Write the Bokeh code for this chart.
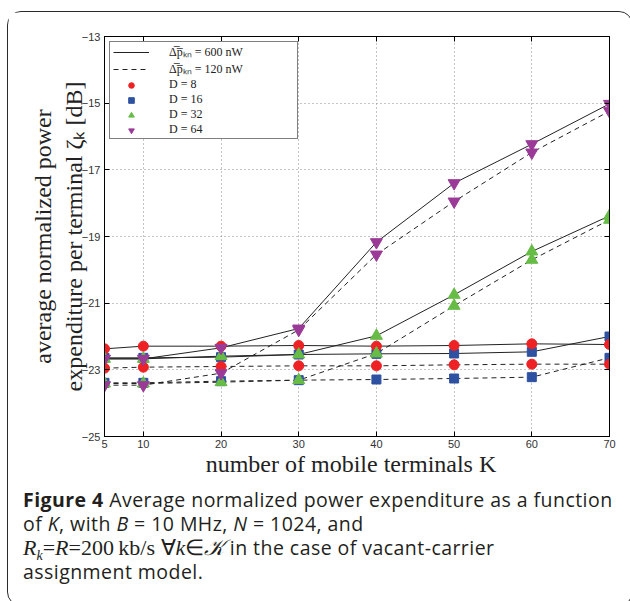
from bokeh.plotting import figure
from bokeh.models import (Range1d, LinearAxis, FixedTicker, Legend, LegendItem, Div,
                          CustomLabelingPolicy)
from bokeh.layouts import column
from bokeh.embed import file_html
from bokeh.resources import INLINE

# ---------------- data ----------------
K = [5, 10, 20, 30, 40, 50, 60, 70]
x_ticks = [5, 10, 20, 30, 40, 50, 60, 70]
y_ticks = [-25, -23, -21, -19, -17, -15, -13]

# D = 8
d8_600 = [-22.37, -22.29, -22.29, -22.27, -22.29, -22.27, -22.22, -22.24]
d8_120 = [-22.95, -22.92, -22.90, -22.88, -22.88, -22.85, -22.83, -22.83]
# D = 16
d16_600 = [-22.64, -22.64, -22.62, -22.54, -22.52, -22.51, -22.46, -22.00]
d16_120 = [-23.39, -23.39, -23.34, -23.31, -23.29, -23.26, -23.22, -22.64]
# D = 32
d32_600 = [-22.67, -22.67, -22.59, -22.54, -21.98, -20.75, -19.45, -18.38]
d32_120 = [-23.41, -23.41, -23.37, -23.31, -22.51, -21.08, -19.70, -18.50]
# D = 64
d64_600 = [-22.67, -22.67, -22.34, -21.76, -19.17, -17.40, -16.23, -15.02]
d64_120 = [-23.46, -23.46, -23.10, -21.80, -19.54, -17.95, -16.48, -15.24]

labels_D = ["D = 8", "D = 16", "D = 32", "D = 64"]
label_600 = "Δ\u0305p\u0305ₖₙ = 600 nW"
label_120 = "Δ\u0305p\u0305ₖₙ = 120 nW"
y_title = "average normalized power\nexpenditure per terminal ζₖ [dB]"
x_title = "number of mobile terminals   K"

# ---------------- styles ----------------
RED, BLUE, GREEN, PURPLE = "#ee2224", "#2e51a2", "#67bc46", "#9b3a97"
LINE_COL = "#222222"
W, H = 614, 470

p = figure(width=W, height=H, x_range=Range1d(5, 70), y_range=Range1d(-25, -13),
           output_backend="svg", toolbar_location=None,
           min_border_left=96, min_border_right=13, min_border_top=24, min_border_bottom=46,
           background_fill_color="white", border_fill_color="white",
           outline_line_color="black", outline_line_width=1)

bottom_axis = p.below[0]
left_axis = p.left[0]

hide_all = CustomLabelingPolicy(code="""
const n = indices.size;
for (let i = 0; i < n; i++) {
  if (typeof indices.unset === 'function') { indices.unset(i); }
  else if (typeof indices.set === 'function') { indices.set(i, false); }
}
return indices;
""")

def style_axis(ax, show_labels=True):
    ax.major_tick_in = 5
    ax.major_tick_out = 0
    ax.minor_tick_line_color = None
    ax.axis_line_color = "black"
    ax.major_tick_line_color = "black"
    ax.major_label_text_font = "Liberation Sans"
    ax.major_label_text_font_size = "11px" if show_labels else "1px"
    ax.major_label_text_color = "#333333"
    ax.major_label_standoff = 4 if show_labels else 0
    if not show_labels:
        ax.major_label_policy = hide_all

bottom_axis.ticker = FixedTicker(ticks=x_ticks)
left_axis.ticker = FixedTicker(ticks=y_ticks)
left_axis.major_label_overrides = {t: ("\u2212" + str(abs(t))) for t in y_ticks}
style_axis(bottom_axis)
style_axis(left_axis)
bottom_axis.major_label_standoff = 3

# axis titles
left_axis.axis_label = y_title
left_axis.axis_label_text_font = "Liberation Serif"
left_axis.axis_label_text_font_style = "normal"
left_axis.axis_label_text_font_size = "24px"
left_axis.axis_label_text_color = "#222222"
left_axis.axis_label_standoff = -8
bottom_axis.axis_label = x_title
bottom_axis.axis_label_text_font = "Liberation Serif"
bottom_axis.axis_label_text_font_style = "normal"
bottom_axis.axis_label_text_font_size = "24px"
bottom_axis.axis_label_text_color = "#222222"
bottom_axis.axis_label_standoff = 0

top = LinearAxis(ticker=FixedTicker(ticks=x_ticks))
style_axis(top, False)
p.add_layout(top, "above")
right = LinearAxis(ticker=FixedTicker(ticks=y_ticks))
style_axis(right, False)
p.add_layout(right, "right")

for g in (p.xgrid, p.ygrid):
    g.grid_line_color = "#8a8a8a"
    g.grid_line_dash = "1 3"
    g.grid_line_width = 1

# ---------------- lines ----------------
series = [(d16_600, d16_120), (d8_600, d8_120), (d32_600, d32_120), (d64_600, d64_120)]
for s600, s120 in series:
    p.line(K, s600, line_color=LINE_COL, line_width=1)
    p.line(K, s120, line_color=LINE_COL, line_width=1, line_dash="5 4")

# ---------------- markers ----------------
r16 = p.scatter(K + K, d16_600 + d16_120, marker="square", size=9, fill_color=BLUE, line_color=BLUE)
r8 = p.scatter(K + K, d8_600 + d8_120, marker="circle", size=10, fill_color=RED, line_color=RED)
r32 = p.scatter(K + K, d32_600 + d32_120, marker="triangle", size=12, fill_color=GREEN, line_color=GREEN)
r64 = p.scatter(K + K, d64_600 + d64_120, marker="inverted_triangle", size=12, fill_color=PURPLE, line_color=PURPLE)

nan = float("nan")
leg_solid = p.line([nan, nan], [nan, nan], line_color=LINE_COL, line_width=1)
leg_dash = p.line([nan, nan], [nan, nan], line_color=LINE_COL, line_width=1, line_dash="5 4")

legend = Legend(items=[
    LegendItem(label=label_600, renderers=[leg_solid]),
    LegendItem(label=label_120, renderers=[leg_dash]),
    LegendItem(label=labels_D[0], renderers=[r8]),
    LegendItem(label=labels_D[1], renderers=[r16]),
    LegendItem(label=labels_D[2], renderers=[r32]),
    LegendItem(label=labels_D[3], renderers=[r64]),
], location="top_left")
legend.margin = 5
legend.padding = {"left": 3, "right": 3, "top": 1, "bottom": 1}
legend.spacing = 0
legend.label_height = 14
legend.glyph_height = 14
legend.glyph_width = 36
legend.label_standoff = 20
legend.label_width = 125
legend.label_text_font = "Liberation Serif"
legend.label_text_font_size = "12px"
legend.label_text_color = "#222222"
legend.border_line_color = "black"
legend.border_line_width = 1
legend.background_fill_color = "white"
legend.background_fill_alpha = 1
p.add_layout(legend)

# ---------------- caption ----------------
cap = (
    "<div style=\"font-family:'Open Sans'; font-size:19.5px; letter-spacing:0.45px; line-height:24px; "
    "color:#231f20; padding-left:10px; padding-top:1px; white-space:nowrap;\">"
    "<b>Figure 4</b> Average normalized power expenditure as a function<br>"
    "of <i>K</i>, with <i>B</i> = 10 MHz, <i>N</i> = 1024, and<br>"
    "<span style=\"font-family:'Liberation Serif'; font-size:22px; letter-spacing:0;\"><i>R<sub style='font-size:14px; line-height:0'>k</sub></i>=<i>R</i>=200&#8201;kb/s "
    "&#8704;<i>k</i>&#8712;<i>&#119974;</i></span> in the case of vacant-carrier<br>"
    "assignment model.</div>"
)
div = Div(text=cap, width=W, height=113)

layout = column(p, div, styles={"border": "1.5px solid #2a2a2a", "border-radius": "14px",
                                "margin-left": "7px", "margin-top": "11px"})

open("out.html", "w").write(file_html(layout, INLINE))
